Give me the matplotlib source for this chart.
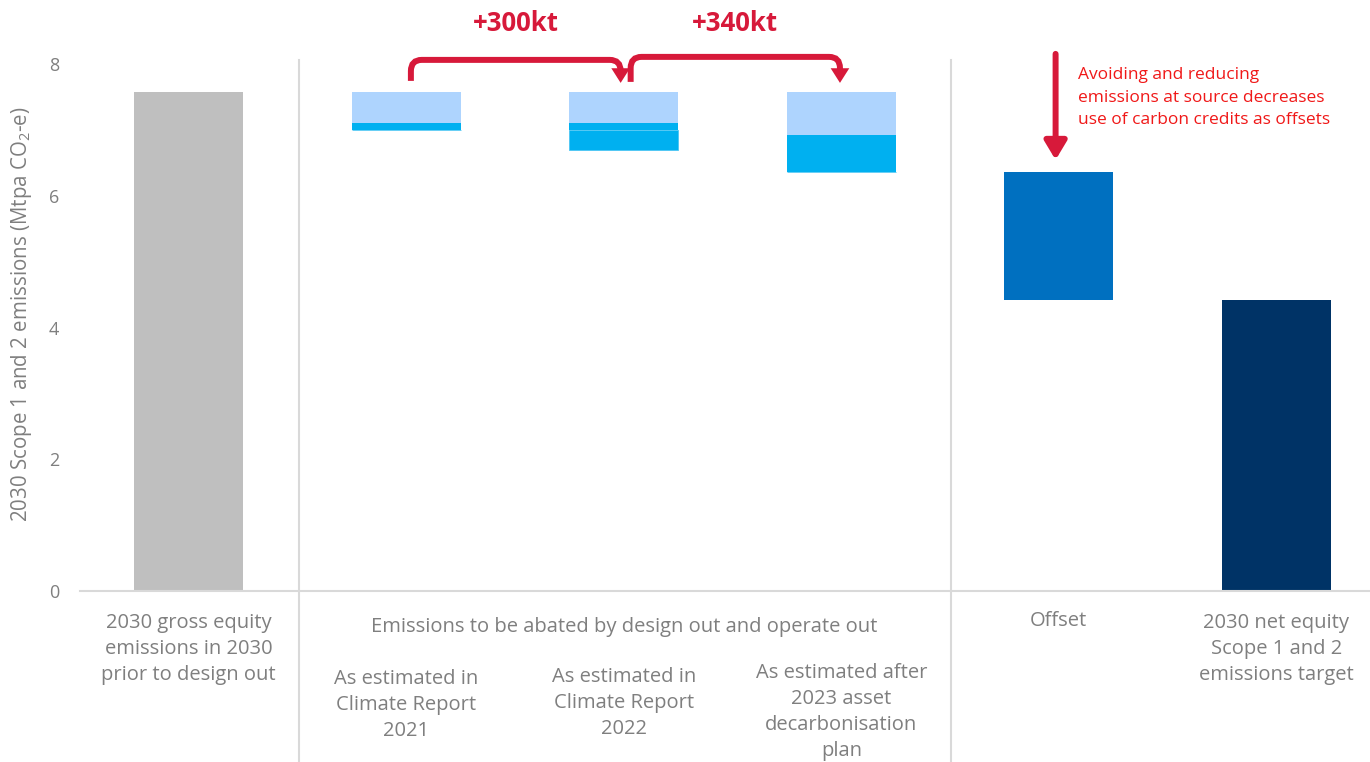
import numpy as np
import matplotlib
matplotlib.use("Agg")
import matplotlib.pyplot as plt
from matplotlib.path import Path
from matplotlib.patches import FancyArrowPatch

plt.rcParams["font.family"] = ["Open Sans", "DejaVu Sans"]
plt.rcParams["mathtext.fontset"] = "custom"
plt.rcParams["mathtext.rm"] = "Open Sans"
plt.rcParams["mathtext.it"] = "Open Sans:italic"

# data (Mtpa CO2-e)
gross = 7.58
operate_out = [0.47, 0.47, 0.66]      # light blue part of the abatement bars
design_out = [0.11, 0.11, 0.56]       # cyan part
design_out_added = [0.0, 0.30, 0.0]   # extra cyan in 2022 estimate
offset = 1.94
net_target = 4.42

main_labels = [
    "2030 gross equity\nemissions in 2030\nprior to design out",
    "Offset",
    "2030 net equity\nScope 1 and 2\nemissions target",
]
abate_title = "Emissions to be abated by design out and operate out"
abate_labels = [
    "As estimated in\nClimate Report\n2021",
    "As estimated in\nClimate Report\n2022",
    "As estimated after\n2023 asset\ndecarbonisation\nplan",
]
step_labels = ["+300kt", "+340kt"]
note = ("Avoiding and reducing\nemissions at source decreases\n"
        "use of carbon credits as offsets")

GREY_TXT = "#7f7f7f"
RED = "#d7193a"

fig = plt.figure(figsize=(13.7, 7.62), dpi=100)
ax = fig.add_axes([0.0582, 0.2244, 0.9418, 0.6916])

x = np.arange(6)
w = 0.5

# gross bar
ax.bar(x[0], gross, width=w, color="#bfbfbf", linewidth=0)

# abatement bars
xa = x[1:4]
light_bottom = gross - np.array(operate_out)
cyan_bottom = light_bottom - np.array(design_out)
extra_bottom = cyan_bottom - np.array(design_out_added)
ax.bar(xa, operate_out, bottom=light_bottom, width=w, color="#aed4fe", linewidth=0)
ax.bar(xa, design_out, bottom=cyan_bottom, width=w, color="#00b0f0", linewidth=0)
ax.bar(xa, design_out_added, bottom=extra_bottom, width=w, color="#00b0f0",
       edgecolor="#4cc6f4", linewidth=0.6)

# offset and net
ax.bar(x[4], offset, bottom=net_target, width=w, color="#0070c0", linewidth=0)
ax.bar(x[5], net_target, width=w, color="#003366", linewidth=0)

ax.set_xlim(-0.5, 5.43)
ax.set_ylim(0, 8)
ax.set_yticks([0, 2, 4, 6, 8])
ax.set_xticks([])
ax.tick_params(axis="y", length=0, pad=15, labelsize=13, labelcolor=GREY_TXT)
for s in ["top", "right", "left"]:
    ax.spines[s].set_visible(False)
ax.spines["bottom"].set_color("#d9d9d9")
ax.spines["bottom"].set_linewidth(1.5)

# section separators
for sx in [0.51, 3.505]:
    ax.plot([sx, sx], [8.06, -2.7], color="#d9d9d9", lw=1.5, clip_on=False)

fig.text(22 / 1370, 1 - 314 / 762, "2030 Scope 1 and 2 emissions (Mtpa CO$_2$-e)",
         rotation=90, ha="center", va="center", fontsize=14.8, color=GREY_TXT)


def py(px):
    # pixel row -> data y
    return (591 - px) / 65.86


lab_kw = dict(ha="center", va="center", fontsize=14.5, color=GREY_TXT,
              linespacing=1.42, clip_on=False)
ax.text(x[0], py(649), main_labels[0], **lab_kw)
ax.text(x[4], py(621), main_labels[1], **lab_kw)
ax.text(x[5], py(649), main_labels[2], **lab_kw)
ax.text(x[2], py(627), abate_title, **lab_kw)
ax.text(x[1], py(705), abate_labels[0], **lab_kw)
ax.text(x[2], py(703), abate_labels[1], **lab_kw)
ax.text(x[3], py(712), abate_labels[2], **lab_kw)


def bracket(x0, x1, y_base, y_top, y_tip):
    rx, ry = 0.05, 0.17
    verts = [(x0, y_base), (x0, y_top - ry), (x0, y_top), (x0 + rx, y_top),
             (x1 - rx, y_top), (x1, y_top), (x1, y_top - ry), (x1, y_tip)]
    codes = [Path.MOVETO, Path.LINETO, Path.CURVE3, Path.CURVE3,
             Path.LINETO, Path.CURVE3, Path.CURVE3, Path.LINETO]
    arr = FancyArrowPatch(path=Path(verts, codes),
                          arrowstyle="-|>,head_length=0.22,head_width=0.14",
                          mutation_scale=20, color=RED, lw=4.3,
                          joinstyle="miter", capstyle="butt", clip_on=False)
    ax.add_patch(arr)


bracket(1.022, 1.986, py(81), py(60), py(83))
bracket(2.032, 2.994, py(82), py(57), py(83))
ax.text(1.505, py(24), step_labels[0], ha="center", va="center", fontsize=18.5,
        fontweight="bold", color=RED, clip_on=False)
ax.text(2.512, py(24), step_labels[1], ha="center", va="center", fontsize=18.5,
        fontweight="bold", color=RED, clip_on=False)

# offset arrow and note
ax.annotate("", xy=(3.985, py(160)), xytext=(3.985, py(54)),
            arrowprops=dict(arrowstyle="-|>,head_length=0.55,head_width=0.33",
                            mutation_scale=20, color=RED, lw=4.3,
                            shrinkA=0, shrinkB=0),
            annotation_clip=False)
ax.text((1078 - 188.5) / 217.6, py(98), note, ha="left", va="center",
        fontsize=12.5, color="#f01818", linespacing=1.55, clip_on=False)

fig.savefig("out.png", dpi=100)
